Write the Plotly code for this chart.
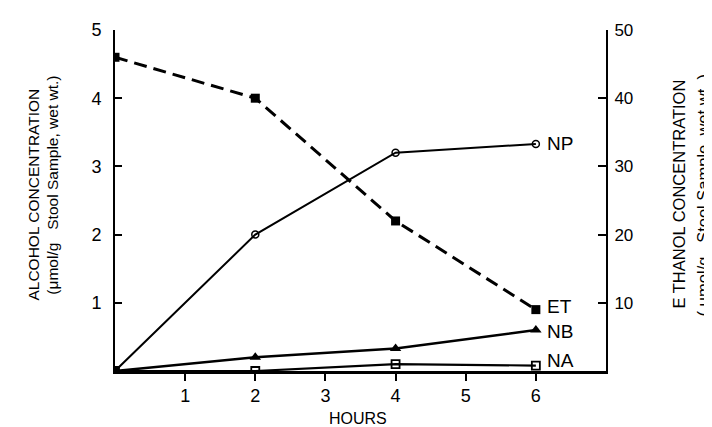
import plotly.graph_objects as go

hours = [0, 2, 4, 6]
np_vals = [0, 2.0, 3.2, 3.33]
nb_vals = [0, 0.2, 0.33, 0.6]
na_vals = [0, 0.0, 0.1, 0.08]
et_vals = [46, 40, 22, 9.0]

x_ticks = [1, 2, 3, 4, 5, 6]
y_ticks = [1, 2, 3, 4, 5]
y2_ticks = [10, 20, 30, 40, 50]

series_labels = ["NP", "ET", "NB", "NA"]
label_y = [3.33, 0.95, 0.58, 0.16]

FONT = "Liberation Sans, Arial, sans-serif"
W, H = 712, 427
L, R, T, B = 107, 598, 19, 363


def paper(xp, yp):
    return (xp - L) / (R - L), (B - yp) / (B - T)


fig = go.Figure()
fig.add_trace(go.Scatter(x=hours, y=np_vals, mode="lines+markers",
                         line=dict(color="black", width=2),
                         marker=dict(symbol="circle-open", size=7, color="black", line=dict(width=1.5))))
fig.add_trace(go.Scatter(x=hours, y=nb_vals, mode="lines+markers",
                         line=dict(color="black", width=2.5),
                         marker=dict(symbol="triangle-up", size=10, color="black")))
fig.add_trace(go.Scatter(x=hours, y=na_vals, mode="lines+markers",
                         line=dict(color="black", width=2.2),
                         marker=dict(symbol="square-open", size=8, color="black", line=dict(width=1.8))))
fig.add_trace(go.Scatter(x=hours, y=et_vals, mode="lines+markers", yaxis="y2",
                         line=dict(color="black", width=3, dash="13px,7px"),
                         marker=dict(symbol="square", size=9, color="black")))

ann = []
for lab, yv in zip(series_labels, label_y):
    ann.append(dict(x=6.13, y=yv, xref="x", yref="y", text=lab, showarrow=False,
                    xanchor="left", yanchor="middle",
                    font=dict(family=FONT, size=19, color="black")))

for text, xp, yp, fs in [("ALCOHOL CONCENTRATION", 26, 185, 15.5),
                         ("(μmol/g   Stool Sample, wet wt.)", 45, 176, 15.5),
                         ("E THANOL CONCENTRATION", 671, 185, 16.5),
                         ("( μmol/g   Stool Sample, wet wt. )", 695, 186, 16.5)]:
    xx, yy = paper(xp, yp)
    ann.append(dict(x=xx, y=yy, xref="paper", yref="paper", text=text, showarrow=False,
                    textangle=-90, xanchor="center", yanchor="middle", borderpad=0,
                    font=dict(family=FONT, size=fs, color="black")))
xx, yy = paper(350, 411)
ann.append(dict(x=xx, y=yy, xref="paper", yref="paper", text="HOURS", showarrow=False,
                xanchor="center", yanchor="middle", borderpad=0,
                font=dict(family=FONT, size=16, color="black")))

fig.update_layout(
    width=W, height=H,
    margin=dict(l=L, r=W - R, t=T, b=H - B, pad=0),
    paper_bgcolor="white", plot_bgcolor="white",
    showlegend=False,
    font=dict(family=FONT, color="black"),
    xaxis=dict(range=[0, 7], tickvals=x_ticks, ticktext=[str(v) for v in x_ticks],
               showgrid=False, zeroline=False, showline=True, linecolor="black", linewidth=2.5,
               ticks="outside", ticklen=7, tickwidth=1.5, tickcolor="black",
               tickfont=dict(size=18, family=FONT)),
    yaxis=dict(range=[0, 5], tickvals=y_ticks, ticktext=[str(v) for v in y_ticks],
               showgrid=False, zeroline=False, showline=True, linecolor="black", linewidth=2,
               ticks="inside", ticklen=7, tickwidth=1.5, tickcolor="black",
               ticklabelstandoff=8,
               tickfont=dict(size=18, family=FONT)),
    yaxis2=dict(range=[0, 50], tickvals=y2_ticks, ticktext=[str(v) for v in y2_ticks],
                overlaying="y", side="right",
                showgrid=False, zeroline=False, showline=True, linecolor="black", linewidth=2,
                ticks="inside", ticklen=8, tickwidth=1.5, tickcolor="black",
                ticklabelstandoff=3,
                tickfont=dict(size=17, family=FONT)),
    annotations=ann,
)

fig.write_html("out.html")
